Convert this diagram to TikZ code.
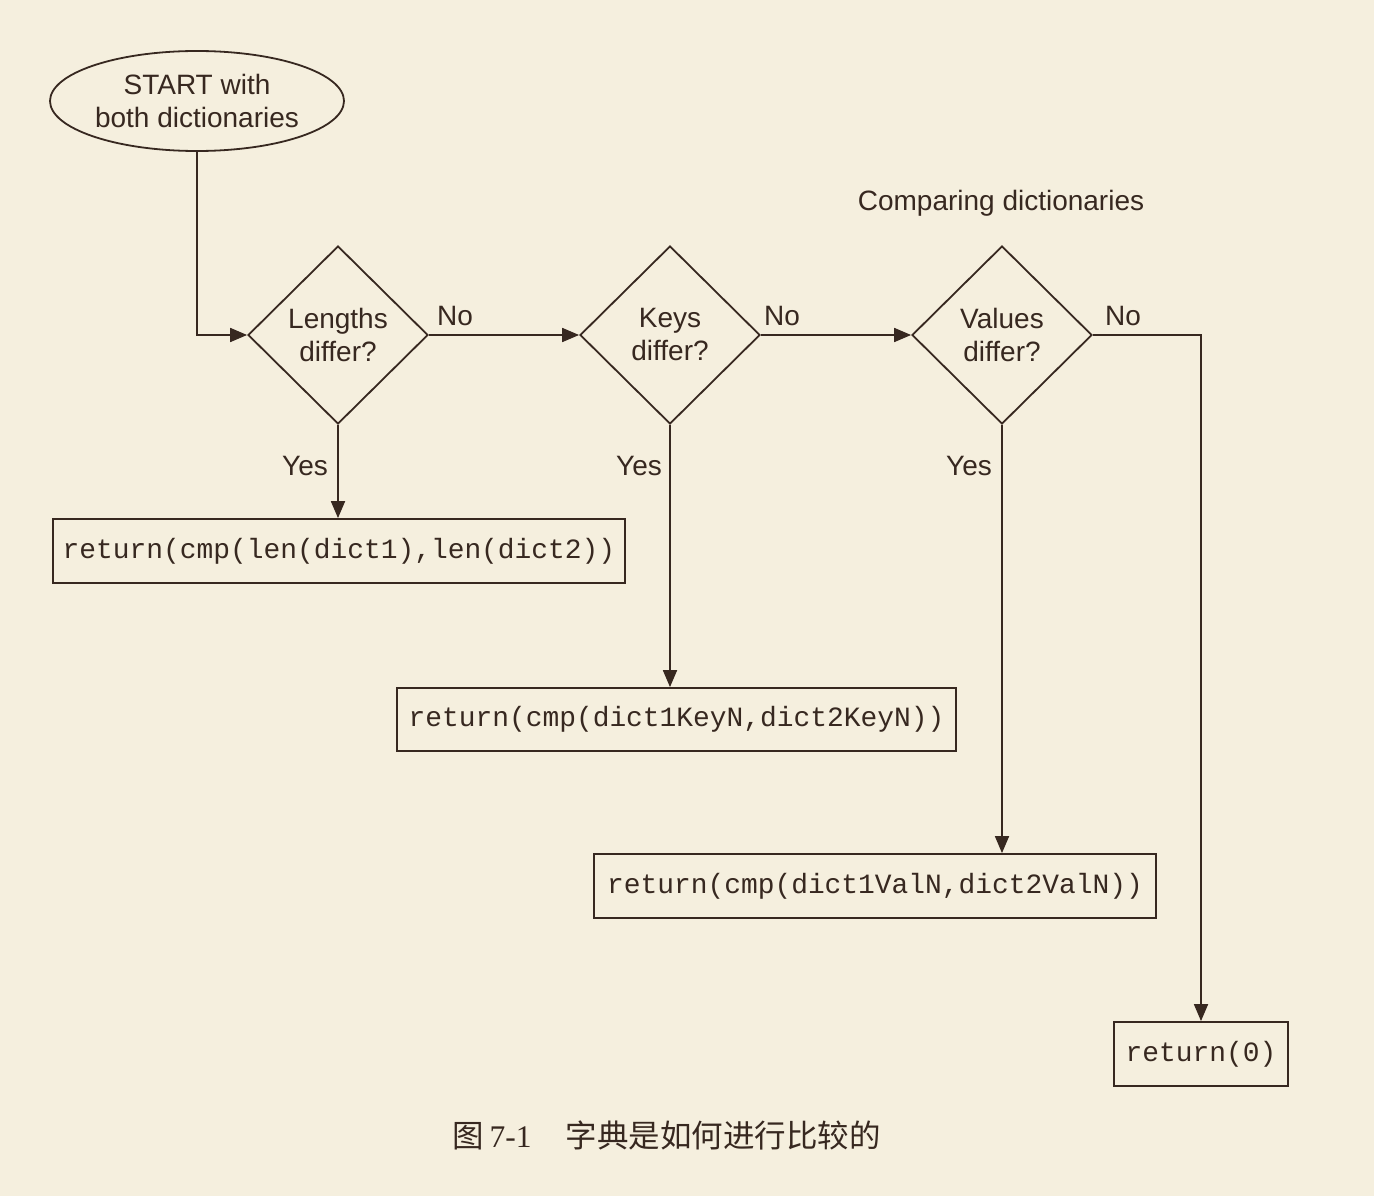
\documentclass[tikz,border=0pt]{standalone}
\usepackage{fontspec}
\setmainfont{Liberation Sans}
\newfontfamily\mycodefont{Liberation Mono}
\newfontfamily\myseriffont{Liberation Serif}
\newfontfamily\mycjk{Noto Sans CJK SC}
\usetikzlibrary{shapes.geometric,arrows.meta}
\definecolor{bg}{RGB}{245,239,222}
\definecolor{ink}{RGB}{55,40,32}
\newcommand\mylbl{\fontsize{28}{33}\selectfont}
\newcommand\mycode{\mycodefont\fontsize{27.9}{33}\selectfont}
\begin{document}
\begin{tikzpicture}[x=1pt,y=-1pt,
  conn/.style={draw=ink, line width=1.8pt},
  arr/.style={conn, -{Triangle[length=17pt,width=14pt]}},
  decision/.style={diamond, draw=ink, line width=1.8pt, minimum width=180pt, minimum height=178pt, inner sep=0pt, align=center, font=\mylbl, text=ink},
  codebox/.style={rectangle, draw=ink, line width=1.8pt, minimum height=64pt, inner sep=0pt, font=\mycode, text=ink},
  lbl/.style={font=\mylbl, text=ink, inner sep=0pt}
]
\fill[bg] (0,0) rectangle (1374,1196);
\useasboundingbox (0,0) rectangle (1374,1196);

\node[ellipse, draw=ink, line width=1.8pt, minimum width=294pt, minimum height=100pt, inner sep=0pt, align=center, font=\mylbl, text=ink] (start) at (197,101) {START with\\both dictionaries};

\node[decision] (d1) at (338,335) {Lengths\\differ?};
\node[decision] (d2) at (670,335) {Keys\\differ?};
\node[decision] (d3) at (1002,335) {Values\\differ?};

\node[lbl] (title) at (1001,203) {Comparing dictionaries};

\node[codebox, minimum width=572pt] (b1) at (339,551) {return(cmp(len(dict1),len(dict2))};
\node[codebox, minimum width=559pt, minimum height=63pt] (b2) at (676.5,719.5) {return(cmp(dict1KeyN,dict2KeyN))};
\node[codebox, minimum width=562pt] (b3) at (875,886) {return(cmp(dict1ValN,dict2ValN))};
\node[codebox, minimum width=174pt] (b4) at (1201,1054) {return(0)};

\node[lbl] (no1) at (455,316) {No};
\node[lbl] (no2) at (782,316) {No};
\node[lbl] (no3) at (1123,316) {No};
\node[lbl] (yes1) at (305,466) {Yes};
\node[lbl] (yes2) at (639,466) {Yes};
\node[lbl] (yes3) at (969,466) {Yes};

\draw[arr] (start.south) |- (d1.west);
\draw[arr] (d1.east) -- (d2.west);
\draw[arr] (d2.east) -- (d3.west);
\draw[arr] (d3.east) -| (b4.north);
\draw[arr] (d1.south) -- (d1.south |- b1.north);
\draw[arr] (d2.south) -- (d2.south |- b2.north);
\draw[arr] (d3.south) -- (d3.south |- b3.north);

\node[anchor=west, inner sep=0pt, text=ink, font=\fontsize{31.5}{36}\selectfont] (cap) at (452,1135) {{\mycjk 图}\hspace{6pt}{\myseriffont 7-1}\hspace{34pt}{\mycjk 字典是如何进行比较的}};
\end{tikzpicture}
\end{document}
